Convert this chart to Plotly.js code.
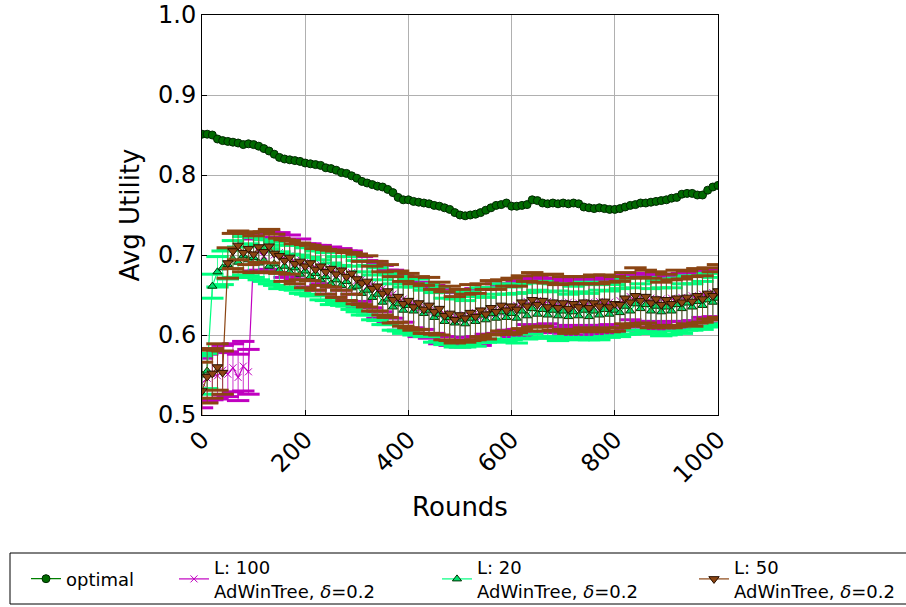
<!DOCTYPE html>
<html>
<head>
<meta charset="utf-8">
<script src="https://cdn.plot.ly/plotly-3.0.1.min.js"></script>
<style>html,body{margin:0;padding:0;background:#fff;}#chart{width:906px;height:607px;}</style>
</head>
<body>
<div id="chart"></div>
<script>
// Rounds sampled every 10
const rounds = [0,10,20,30,40,50,60,70,80,90,100,110,120,130,140,150,160,170,180,190,200,210,220,230,240,250,260,270,280,290,300,310,320,330,340,350,360,370,380,390,400,410,420,430,440,450,460,470,480,490,500,510,520,530,540,550,560,570,580,590,600,610,620,630,640,650,660,670,680,690,700,710,720,730,740,750,760,770,780,790,800,810,820,830,840,850,860,870,880,890,900,910,920,930,940,950,960,970,980,990,1000];

const optimal = [0.851,0.851,0.850,0.845,0.843,0.842,0.841,0.840,0.838,0.839,
  0.838,0.836,0.833,0.830,0.826,0.822,0.820,0.819,0.818,0.817,
  0.815,0.814,0.813,0.812,0.809,0.808,0.806,0.803,0.802,0.799,
  0.796,0.792,0.790,0.788,0.786,0.785,0.782,0.778,0.772,0.769,
  0.769,0.767,0.766,0.765,0.764,0.762,0.761,0.759,0.757,0.753,
  0.750,0.749,0.750,0.751,0.753,0.756,0.759,0.762,0.763,0.765,
  0.761,0.761,0.762,0.763,0.769,0.768,0.765,0.764,0.765,0.764,
  0.765,0.764,0.765,0.764,0.760,0.759,0.758,0.759,0.758,0.757,
  0.757,0.758,0.760,0.762,0.763,0.765,0.765,0.766,0.767,0.768,
  0.769,0.771,0.772,0.776,0.777,0.777,0.775,0.775,0.781,0.785,
  0.787];

const l100 = [0.540,0.546,0.551,0.549,0.556,0.551,0.559,0.547,0.561,0.554,
  0.700,0.704,0.699,0.706,0.700,0.703,0.695,0.699,0.691,0.695,
  0.687,0.691,0.684,0.688,0.680,0.685,0.677,0.682,0.674,0.678,
  0.668,0.670,0.661,0.663,0.655,0.658,0.648,0.651,0.641,0.645,
  0.637,0.640,0.632,0.636,0.628,0.632,0.624,0.627,0.620,0.624,
  0.619,0.625,0.620,0.628,0.622,0.630,0.625,0.633,0.627,0.635,
  0.630,0.637,0.633,0.642,0.636,0.643,0.637,0.642,0.635,0.640,
  0.634,0.641,0.633,0.640,0.634,0.641,0.635,0.642,0.636,0.641,
  0.637,0.643,0.640,0.648,0.642,0.647,0.641,0.646,0.639,0.645,
  0.640,0.646,0.641,0.647,0.643,0.649,0.644,0.651,0.647,0.653,
  0.652];
const l100Err = [0.031,0.030,0.032,0.029,0.031,0.028,0.030,0.029,0.031,0.028,
  0.020,0.023,0.021,0.024,0.022,0.025,0.023,0.026,0.022,0.025,
  0.027,0.023,0.028,0.024,0.029,0.025,0.030,0.026,0.031,0.027,
  0.033,0.028,0.032,0.029,0.034,0.029,0.033,0.030,0.035,0.029,
  0.033,0.031,0.034,0.029,0.032,0.030,0.035,0.029,0.033,0.031,
  0.034,0.028,0.032,0.030,0.035,0.029,0.033,0.031,0.034,0.029,
  0.032,0.030,0.035,0.029,0.033,0.031,0.034,0.028,0.032,0.030,
  0.035,0.029,0.033,0.031,0.034,0.029,0.032,0.030,0.035,0.028,
  0.033,0.031,0.034,0.029,0.032,0.030,0.035,0.029,0.033,0.031,
  0.034,0.029,0.032,0.030,0.033,0.031,0.035,0.029,0.032,0.030,
  0.031];

const l20 = [0.550,0.555,0.661,0.679,0.684,0.688,0.695,0.691,0.699,0.694,
  0.697,0.690,0.693,0.686,0.689,0.681,0.686,0.679,0.684,0.676,
  0.680,0.673,0.677,0.669,0.673,0.664,0.669,0.662,0.667,0.659,
  0.661,0.652,0.656,0.647,0.651,0.641,0.645,0.635,0.639,0.631,
  0.637,0.630,0.635,0.627,0.631,0.622,0.626,0.617,0.622,0.615,
  0.620,0.614,0.621,0.617,0.625,0.619,0.627,0.621,0.629,0.622,
  0.627,0.621,0.630,0.624,0.633,0.626,0.632,0.625,0.631,0.624,
  0.630,0.623,0.629,0.624,0.631,0.623,0.630,0.625,0.632,0.626,
  0.631,0.628,0.636,0.630,0.639,0.633,0.638,0.630,0.636,0.629,
  0.635,0.630,0.638,0.633,0.640,0.635,0.642,0.637,0.644,0.641,
  0.646];
const l20Err = [0.024,0.022,0.015,0.019,0.021,0.018,0.023,0.019,0.024,0.020,
  0.025,0.021,0.026,0.022,0.027,0.023,0.026,0.022,0.028,0.024,
  0.029,0.024,0.028,0.025,0.030,0.026,0.029,0.025,0.031,0.027,
  0.032,0.027,0.031,0.028,0.033,0.028,0.032,0.029,0.034,0.029,
  0.033,0.030,0.035,0.029,0.033,0.031,0.034,0.029,0.032,0.030,
  0.035,0.029,0.033,0.031,0.034,0.028,0.032,0.030,0.035,0.029,
  0.033,0.031,0.034,0.029,0.032,0.030,0.035,0.029,0.033,0.031,
  0.034,0.028,0.032,0.030,0.035,0.029,0.033,0.031,0.034,0.029,
  0.032,0.030,0.035,0.029,0.033,0.031,0.034,0.028,0.032,0.030,
  0.035,0.029,0.033,0.031,0.034,0.029,0.032,0.030,0.033,0.031,
  0.032];

const l50 = [0.530,0.548,0.552,0.560,0.553,0.690,0.705,0.712,0.703,0.708,
  0.701,0.710,0.704,0.711,0.702,0.699,0.693,0.697,0.689,0.692,
  0.686,0.690,0.682,0.686,0.679,0.683,0.676,0.681,0.673,0.677,
  0.670,0.665,0.667,0.658,0.661,0.652,0.655,0.644,0.648,0.639,
  0.643,0.635,0.640,0.632,0.637,0.629,0.633,0.624,0.627,0.619,
  0.625,0.621,0.628,0.623,0.631,0.626,0.634,0.629,0.637,0.631,
  0.636,0.632,0.641,0.636,0.644,0.638,0.643,0.635,0.641,0.634,
  0.640,0.633,0.639,0.635,0.641,0.634,0.640,0.636,0.642,0.635,
  0.639,0.638,0.646,0.641,0.649,0.643,0.648,0.640,0.645,0.638,
  0.644,0.639,0.646,0.641,0.647,0.642,0.649,0.645,0.652,0.649,
  0.655];
const l50Err = [0.036,0.033,0.031,0.029,0.027,0.019,0.022,0.018,0.024,0.020,
  0.023,0.019,0.025,0.021,0.024,0.022,0.026,0.021,0.025,0.023,
  0.027,0.022,0.026,0.024,0.028,0.023,0.029,0.025,0.030,0.026,
  0.031,0.027,0.032,0.028,0.031,0.027,0.033,0.029,0.032,0.028,
  0.034,0.029,0.033,0.030,0.035,0.028,0.033,0.030,0.034,0.029,
  0.032,0.030,0.035,0.029,0.033,0.031,0.034,0.028,0.032,0.030,
  0.035,0.029,0.033,0.031,0.034,0.028,0.032,0.030,0.035,0.029,
  0.033,0.031,0.034,0.029,0.032,0.030,0.035,0.028,0.033,0.031,
  0.034,0.029,0.032,0.030,0.035,0.029,0.033,0.031,0.034,0.028,
  0.032,0.030,0.035,0.029,0.033,0.031,0.034,0.029,0.032,0.030,
  0.033];

const seriesNames = ['optimal', 'L: 100<br>AdWinTree, <i>δ</i>=0.2', 'L: 20<br>AdWinTree, <i>δ</i>=0.2', 'L: 50<br>AdWinTree, <i>δ</i>=0.2'];
const xTicks = [0,200,400,600,800,1000];
const yTicks = [0.5,0.6,0.7,0.8,0.9,1.0];

const MAG = '#c000c0', SPRING = '#00ff7f', BROWN = '#8b4513', GREEN = '#008000';

function capTraces(y, err, color) {
  const up = y.map((v,i)=>v+err[i]);
  const dn = y.map((v,i)=>v-err[i]);
  return [up, dn].map(arr => ({
    x: rounds, y: arr, type:'scatter', mode:'markers', showlegend:false, hoverinfo:'skip',
    marker:{symbol:'line-ew', size:16, color:color, line:{color:color, width:3}}
  }));
}
function mainTrace(y, err, name, color, marker, legendId) {
  return {x: rounds, y: y, type:'scatter', mode:'lines+markers', name: name, legend: legendId,
    line:{color:color, width:1.2}, marker: marker,
    error_y:{type:'data', array: err, color: color, thickness: 0.8, width: 0}};
}

const traces = [
  {x: rounds, y: optimal, type:'scatter', mode:'lines+markers', name: seriesNames[0], legend:'legend',
   line:{color:GREEN, width:1.2}, marker:{symbol:'circle', size:8, color:'#006a00', line:{color:'#002800', width:1}}},
  ...capTraces(l100, l100Err, MAG),
  mainTrace(l100, l100Err, seriesNames[1], MAG, {symbol:'x-thin', size:7, color:MAG, line:{color:MAG, width:1}}, 'legend2'),
  ...capTraces(l20, l20Err, SPRING),
  mainTrace(l20, l20Err, seriesNames[2], SPRING, {symbol:'triangle-up', size:8, color:'#00e070', line:{color:'#003300', width:1}}, 'legend3'),
  ...capTraces(l50, l50Err, BROWN),
  mainTrace(l50, l50Err, seriesNames[3], BROWN, {symbol:'triangle-down', size:9, color:BROWN, line:{color:'#2a1000', width:1}}, 'legend4')
];

function legendAt(px) {
  return {orientation:'h', xref:'container', yref:'container', x: px/906, y: 1 - 579/607,
    xanchor:'left', yanchor:'middle', borderwidth:0, bgcolor:'rgba(0,0,0,0)',
    font:{size:18}, itemwidth:30};
}

const layout = {
  width: 906, height: 607,
  margin: {l:202, r:188, t:15, b:192, pad:0},
  paper_bgcolor:'#fff', plot_bgcolor:'#fff',
  font: {family:'DejaVu Sans', color:'#000'},
  showlegend: true,
  xaxis: {range:[0,1000], tickvals:xTicks, ticktext:xTicks.map(String), tickangle:-45,
    tickfont:{size:24}, showgrid:true, gridcolor:'#b0b0b0', gridwidth:1,
    showline:true, linecolor:'#000', linewidth:1, mirror:true, ticks:'inside', ticklen:5, tickcolor:'#000',
    zeroline:false, title:{text:'Rounds', font:{size:26}, standoff:10}},
  yaxis: {range:[0.5,1.0], tickvals:yTicks, ticktext:yTicks.map(v=>v.toFixed(1)),
    tickfont:{size:24}, showgrid:true, gridcolor:'#b0b0b0', gridwidth:1,
    showline:true, linecolor:'#000', linewidth:1, mirror:true, ticks:'inside', ticklen:5, tickcolor:'#000',
    zeroline:false, title:{text:'Avg Utility', font:{size:26}, standoff:10}},
  legend: legendAt(26),
  legend2: legendAt(174),
  legend3: legendAt(437),
  legend4: legendAt(694),
  shapes: [{type:'rect', xref:'paper', yref:'paper',
    x0:(10-202)/516, x1:(910-202)/516, y0:(415-604)/400, y1:(415-553)/400,
    line:{color:'#000', width:1}, fillcolor:'rgba(0,0,0,0)', layer:'below'}]
};

Plotly.newPlot('chart', traces, layout, {displayModeBar:false, staticPlot:true});
</script>
</body>
</html>
